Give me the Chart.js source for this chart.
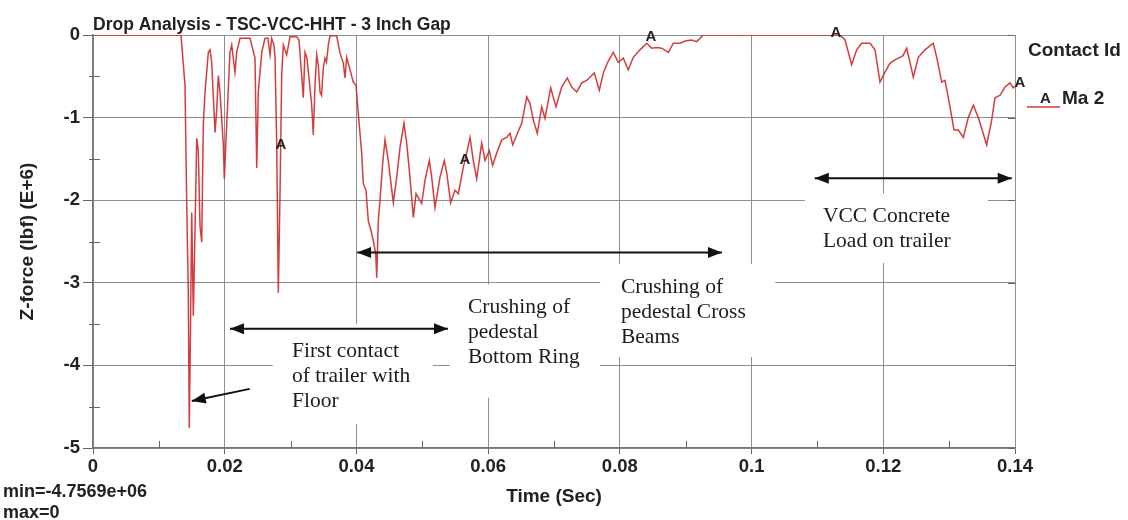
<!DOCTYPE html>
<html>
<head>
<meta charset="utf-8">
<title>Drop Analysis - TSC-VCC-HHT - 3 Inch Gap</title>
<script src="https://cdn.jsdelivr.net/npm/chart.js@4.4.1/dist/chart.umd.min.js"></script>
<style>
    html, body { margin: 0; padding: 0; background: #fff; }
    #wrap { width: 1128px; height: 520px; }
</style>
</head>
<body>
<div id="wrap"><canvas id="drop-chart" width="1128" height="520"></canvas></div>
<script>
/**
 * Drop analysis - contact Z-force over time
 */

// Time (s) of each sample
var timeSec = [
    0, 0.01336, 0.01397, 0.01423, 0.01447, 0.01462, 0.01480, 0.01499, 0.01523, 0.01549,
    0.01575, 0.01599, 0.01625, 0.01651, 0.01675, 0.01701, 0.01751, 0.01777, 0.01802, 0.01853,
    0.01878, 0.01903, 0.01928, 0.01979, 0.01994, 0.02030, 0.02080, 0.02106, 0.02156, 0.02182,
    0.02232, 0.02384, 0.02460, 0.02486, 0.02510, 0.02562, 0.02612, 0.02657, 0.02688, 0.02713,
    0.02748, 0.02764, 0.02789, 0.02814, 0.02840, 0.02865, 0.02890, 0.02915, 0.02941, 0.02969,
    0.02991, 0.03093, 0.03128, 0.03169, 0.03193, 0.03219, 0.03249, 0.03295, 0.03321, 0.03345,
    0.03371, 0.03397, 0.03421, 0.03447, 0.03470, 0.03497, 0.03523, 0.03546, 0.03573, 0.03599,
    0.03700, 0.03751, 0.03801, 0.03827, 0.03852, 0.03902, 0.03953, 0.03994, 0.04028, 0.04080,
    0.04104, 0.04145, 0.04180, 0.04232, 0.04256, 0.04293, 0.04308, 0.04332, 0.04358, 0.04399,
    0.04434, 0.04484, 0.04525, 0.04560, 0.04612, 0.04662, 0.04722, 0.04763, 0.04813, 0.04864,
    0.04905, 0.04940, 0.04991, 0.05041, 0.05107, 0.05143, 0.05193, 0.05269, 0.05334, 0.05371,
    0.05431, 0.05497, 0.05547, 0.05623, 0.05674, 0.05725, 0.05775, 0.05826, 0.05902, 0.05952,
    0.06018, 0.06069, 0.06130, 0.06206, 0.06282, 0.06332, 0.06373, 0.06434, 0.06510, 0.06586,
    0.06636, 0.06686, 0.06746, 0.06813, 0.06863, 0.06950, 0.07030, 0.07117, 0.07202, 0.07269,
    0.07345, 0.07421, 0.07497, 0.07612, 0.07688, 0.07749, 0.07815, 0.07900, 0.07976, 0.08052,
    0.08128, 0.08204, 0.08306, 0.08408, 0.08484, 0.08559, 0.08635, 0.08736, 0.08812, 0.08913,
    0.09004, 0.09091, 0.09167, 0.09267, 0.11343, 0.11419, 0.11520, 0.11596, 0.11672, 0.11798,
    0.11874, 0.11950, 0.12026, 0.12102, 0.12178, 0.12254, 0.12299, 0.12356, 0.12456, 0.12532,
    0.12633, 0.12759, 0.12811, 0.12887, 0.12937, 0.13013, 0.13074, 0.13139, 0.13215, 0.13291,
    0.13367, 0.13443, 0.13570, 0.13646, 0.13696, 0.13772, 0.13848, 0.13924, 0.13974, 0.14
];

// Z-force (lbf, E+6) of each sample
var zForce = [
    0, 0, -0.61, -2.03, -3.12, -4.757, -3.58, -2.15, -3.40, -2.37,
    -1.25, -1.40, -2.31, -2.51, -1.09, -0.69, -0.21, -0.18, -0.33, -1.18,
    -0.91, -0.49, -0.69, -1.33, -1.74, -1.09, -0.21, -0.12, -0.45, -0.21,
    -0.04, -0.04, -0.28, -1.61, -0.69, -0.21, -0.04, -0.04, -0.24, -0.04,
    -0.12, -0.28, -1.30, -3.12, -1.91, -0.49, -0.12, -0.18, -0.24, -0.12,
    -0.02, -0.02, -0.06, -0.49, -0.76, -0.21, -0.28, -0.64, -0.85, -1.21,
    -0.61, -0.24, -0.36, -0.69, -0.73, -0.40, -0.28, -0.33, -0.12, -0.01,
    -0.01, -0.22, -0.34, -0.52, -0.27, -0.42, -0.57, -0.61, -0.95, -1.43,
    -1.80, -1.88, -2.25, -2.40, -2.49, -2.65, -2.94, -2.25, -2.00, -1.55,
    -1.27, -1.52, -1.80, -2.03, -1.72, -1.36, -1.07, -1.31, -1.72, -2.21,
    -1.92, -1.97, -2.04, -1.76, -1.52, -1.72, -2.09, -1.72, -1.52, -1.67,
    -2.03, -1.88, -1.92, -1.60, -1.43, -1.24, -1.52, -1.74, -1.31, -1.52,
    -1.40, -1.58, -1.43, -1.27, -1.24, -1.19, -1.33, -1.21, -1.07, -0.75,
    -0.83, -1.03, -1.19, -0.87, -1.01, -0.64, -0.87, -0.63, -0.52, -0.63,
    -0.69, -0.58, -0.55, -0.46, -0.67, -0.46, -0.33, -0.21, -0.33, -0.28,
    -0.42, -0.27, -0.18, -0.10, -0.16, -0.15, -0.16, -0.21, -0.10, -0.10,
    -0.07, -0.06, -0.08, 0, 0, -0.06, -0.36, -0.18, -0.10, -0.10,
    -0.18, -0.57, -0.45, -0.34, -0.30, -0.27, -0.25, -0.16, -0.51, -0.27,
    -0.18, -0.10, -0.27, -0.57, -0.55, -0.87, -1.15, -1.15, -1.24, -1.00,
    -0.85, -1.00, -1.33, -1.03, -0.76, -0.73, -0.63, -0.58, -0.64, -0.62
];

// Curve id markers ("A") along the line
var markerTimes = [0.02855, 0.05648, 0.08473, 0.11282, 0.14076];
var markerForces = [-1.335, -1.517, -0.024, 0.024, -0.583];

// Axis ticks
var xTickValues = [0, 0.02, 0.04, 0.06, 0.08, 0.1, 0.12, 0.14];
var xMinorValues = [0.01, 0.03, 0.05, 0.07, 0.09, 0.11, 0.13];
var yTickValues = [0, -1, -2, -3, -4, -5];
var yMinorValues = [-0.5, -1.5, -2.5, -3.5, -4.5];

var chartTitle = 'Drop Analysis - TSC-VCC-HHT - 3 Inch Gap';
var seriesName = 'Ma 2';
var statLines = ['min=-4.7569e+06', 'max=0'];

// Hand-written notes anchored in data units (first line baseline)
var notes = [
    { t: 0.03022, f: -3.896, lines: ['First contact', 'of trailer with', 'Floor'] },
    { t: 0.05694, f: -3.362, lines: ['Crushing of', 'pedestal', 'Bottom Ring'] },
    { t: 0.08017, f: -3.119, lines: ['Crushing of', 'pedestal Cross', 'Beams'] },
    { t: 0.11084, f: -2.269, lines: ['VCC Concrete', 'Load on trailer'] }
];

// White boxes behind the notes (they hide the grid)
var noteBoxes = [
    { t0: 0.0273, t1: 0.0516, f0: -3.50, f1: -4.71 },
    { t0: 0.0542, t1: 0.0770, f0: -3.02, f1: -4.39 },
    { t0: 0.0770, t1: 0.1036, f0: -2.77, f1: -3.90 },
    { t0: 0.1081, t1: 0.1359, f0: -1.92, f1: -2.76 }
];

var arrows = [
    { t0: 0.0208, f0: -3.556, t1: 0.0539, f1: -3.556, both: true },
    { t0: 0.0401, f0: -2.633, t1: 0.0955, f1: -2.633, both: true },
    { t0: 0.1096, f0: -1.735, t1: 0.1395, f1: -1.735, both: true },
    { t0: 0.0238, f0: -4.284, t1: 0.0150, f1: -4.430, both: false }
];

(function() {
    'use strict';

    var SANS = "'Liberation Sans', Arial, sans-serif";
    var SERIF = "'Liberation Serif', 'Times New Roman', serif";
    var CURVE_COLOR = 'rgba(208, 44, 44, 0.92)';
    var GRID_COLOR = '#8e8e8e';
    var TEXT_COLOR = '#222';

    /**
     * Draw a filled arrow head at (x, y) pointing away from (fx, fy)
     */
    function arrowHead(ctx, fx, fy, x, y) {
        var ang = Math.atan2(y - fy, x - fx);
        var len = 14, half = 5.5;
        ctx.beginPath();
        ctx.moveTo(x, y);
        ctx.lineTo(x - len * Math.cos(ang) + half * Math.sin(ang), y - len * Math.sin(ang) - half * Math.cos(ang));
        ctx.lineTo(x - len * Math.cos(ang) - half * Math.sin(ang), y - len * Math.sin(ang) + half * Math.cos(ang));
        ctx.closePath();
        ctx.fill();
    }

    var dropPlugin = {
        id: 'dropAnnotations',

        // white note boxes go over the grid but under the curve
        beforeDatasetsDraw: function(chart) {
            var ctx = chart.ctx, xs = chart.scales.x, ys = chart.scales.y;
            ctx.save();
            ctx.fillStyle = '#fff';
            noteBoxes.forEach(function(b) {
                var x1 = xs.getPixelForValue(b.t0), x2 = xs.getPixelForValue(b.t1);
                var y1 = ys.getPixelForValue(b.f0), y2 = ys.getPixelForValue(b.f1);
                ctx.fillRect(x1, y1, x2 - x1, y2 - y1);
            });
            ctx.restore();
        },

        afterDraw: function(chart) {
            var ctx = chart.ctx, xs = chart.scales.x, ys = chart.scales.y;
            var area = chart.chartArea;
            ctx.save();

            // minor ticks, inside the frame
            ctx.strokeStyle = '#666';
            ctx.lineWidth = 1;
            ctx.beginPath();
            xMinorValues.forEach(function(v) {
                var x = Math.round(xs.getPixelForValue(v)) + 0.5;
                ctx.moveTo(x, area.bottom);
                ctx.lineTo(x, area.bottom - 7);
            });
            yMinorValues.forEach(function(v) {
                var y = Math.round(ys.getPixelForValue(v)) + 0.5;
                ctx.moveTo(area.left - 4, y);
                ctx.lineTo(area.left + 7, y);
            });
            yTickValues.forEach(function(v) {
                var y = Math.round(ys.getPixelForValue(v)) + 0.5;
                ctx.moveTo(area.right, y);
                ctx.lineTo(area.right - 7, y);
            });
            ctx.stroke();

            // title
            ctx.fillStyle = TEXT_COLOR;
            ctx.textAlign = 'left';
            ctx.textBaseline = 'alphabetic';
            ctx.font = 'bold 17.5px ' + SANS;
            ctx.fillText(chartTitle, area.left, 30);

            // min / max
            ctx.font = 'bold 18px ' + SANS;
            ctx.fillText(statLines[0], 3, 497);
            ctx.fillText(statLines[1], 3, 518);

            // curve markers
            ctx.font = 'bold 15px ' + SANS;
            ctx.textAlign = 'center';
            ctx.textBaseline = 'middle';
            markerTimes.forEach(function(t, i) {
                ctx.fillText('A', xs.getPixelForValue(t), ys.getPixelForValue(markerForces[i]));
            });

            // legend
            ctx.textAlign = 'left';
            ctx.textBaseline = 'alphabetic';
            ctx.font = 'bold 19px ' + SANS;
            ctx.fillText('Contact Id', 1028, 56);
            ctx.strokeStyle = CURVE_COLOR;
            ctx.lineWidth = 1.5;
            ctx.beginPath();
            ctx.moveTo(1027, 107);
            ctx.lineTo(1060, 107);
            ctx.stroke();
            ctx.font = 'bold 15px ' + SANS;
            ctx.fillText('A', 1040, 103);
            ctx.font = 'bold 19px ' + SANS;
            ctx.fillText(seriesName, 1062, 104);

            // notes
            ctx.font = '21.5px ' + SERIF;
            ctx.fillStyle = '#1c1c1c';
            notes.forEach(function(n) {
                var x = xs.getPixelForValue(n.t), y = ys.getPixelForValue(n.f);
                n.lines.forEach(function(line, i) {
                    ctx.fillText(line, x, y + i * 25);
                });
            });

            // arrows
            ctx.strokeStyle = '#111';
            ctx.fillStyle = '#111';
            ctx.lineWidth = 2;
            arrows.forEach(function(a) {
                var x0 = xs.getPixelForValue(a.t0), y0 = ys.getPixelForValue(a.f0);
                var x1 = xs.getPixelForValue(a.t1), y1 = ys.getPixelForValue(a.f1);
                ctx.beginPath();
                ctx.moveTo(x0, y0);
                ctx.lineTo(x1, y1);
                ctx.stroke();
                arrowHead(ctx, x0, y0, x1, y1);
                if (a.both) {
                    arrowHead(ctx, x1, y1, x0, y0);
                }
            });

            ctx.restore();
        }
    };

    var points = timeSec.map(function(t, i) {
        return { x: t, y: zForce[i] };
    });

    new Chart(document.getElementById('drop-chart'), {
        type: 'scatter',
        data: {
            datasets: [{
                label: seriesName,
                data: points,
                showLine: true,
                borderColor: CURVE_COLOR,
                borderWidth: 1.5,
                pointRadius: 0,
                tension: 0
            }]
        },
        options: {
            responsive: false,
            animation: false,
            devicePixelRatio: 1,
            layout: { padding: { left: 0, right: 113, top: 35, bottom: 0 } },
            plugins: {
                legend: { display: false },
                tooltip: { enabled: false },
                title: { display: false }
            },
            scales: {
                x: {
                    type: 'linear',
                    min: 0,
                    max: 0.14,
                    afterBuildTicks: function(scale) {
                        scale.ticks = xTickValues.map(function(v) { return { value: v }; });
                    },
                    afterFit: function(scale) { scale.height = 72; },
                    ticks: {
                        autoSkip: false,
                        maxRotation: 0,
                        padding: 2,
                        color: TEXT_COLOR,
                        font: { family: SANS, size: 18.5, weight: 'bold' },
                        callback: function(v) { return String(v); }
                    },
                    grid: { color: GRID_COLOR, lineWidth: 1, tickLength: 6, tickColor: '#666' },
                    border: { color: '#777', width: 1.5 },
                    title: {
                        display: true,
                        text: 'Time (Sec)',
                        color: TEXT_COLOR,
                        font: { family: SANS, size: 19, weight: 'bold' },
                        padding: { top: 4, bottom: 12 }
                    }
                },
                y: {
                    type: 'linear',
                    min: -5,
                    max: 0,
                    afterBuildTicks: function(scale) {
                        scale.ticks = yTickValues.map(function(v) { return { value: v }; });
                    },
                    afterFit: function(scale) { scale.width = 93; },
                    ticks: {
                        padding: 3,
                        color: TEXT_COLOR,
                        font: { family: SANS, size: 18.5, weight: 'bold' },
                        callback: function(v) { return String(v); }
                    },
                    grid: { color: GRID_COLOR, lineWidth: 1, tickLength: 10, tickColor: '#666' },
                    border: { color: '#777', width: 1.5 },
                    title: {
                        display: true,
                        text: 'Z-force (lbf) (E+6)',
                        color: TEXT_COLOR,
                        font: { family: SANS, size: 19, weight: 'bold' },
                        padding: { top: 16, bottom: 4 }
                    }
                }
            }
        },
        plugins: [dropPlugin]
    });
})();
</script>
</body>
</html>
